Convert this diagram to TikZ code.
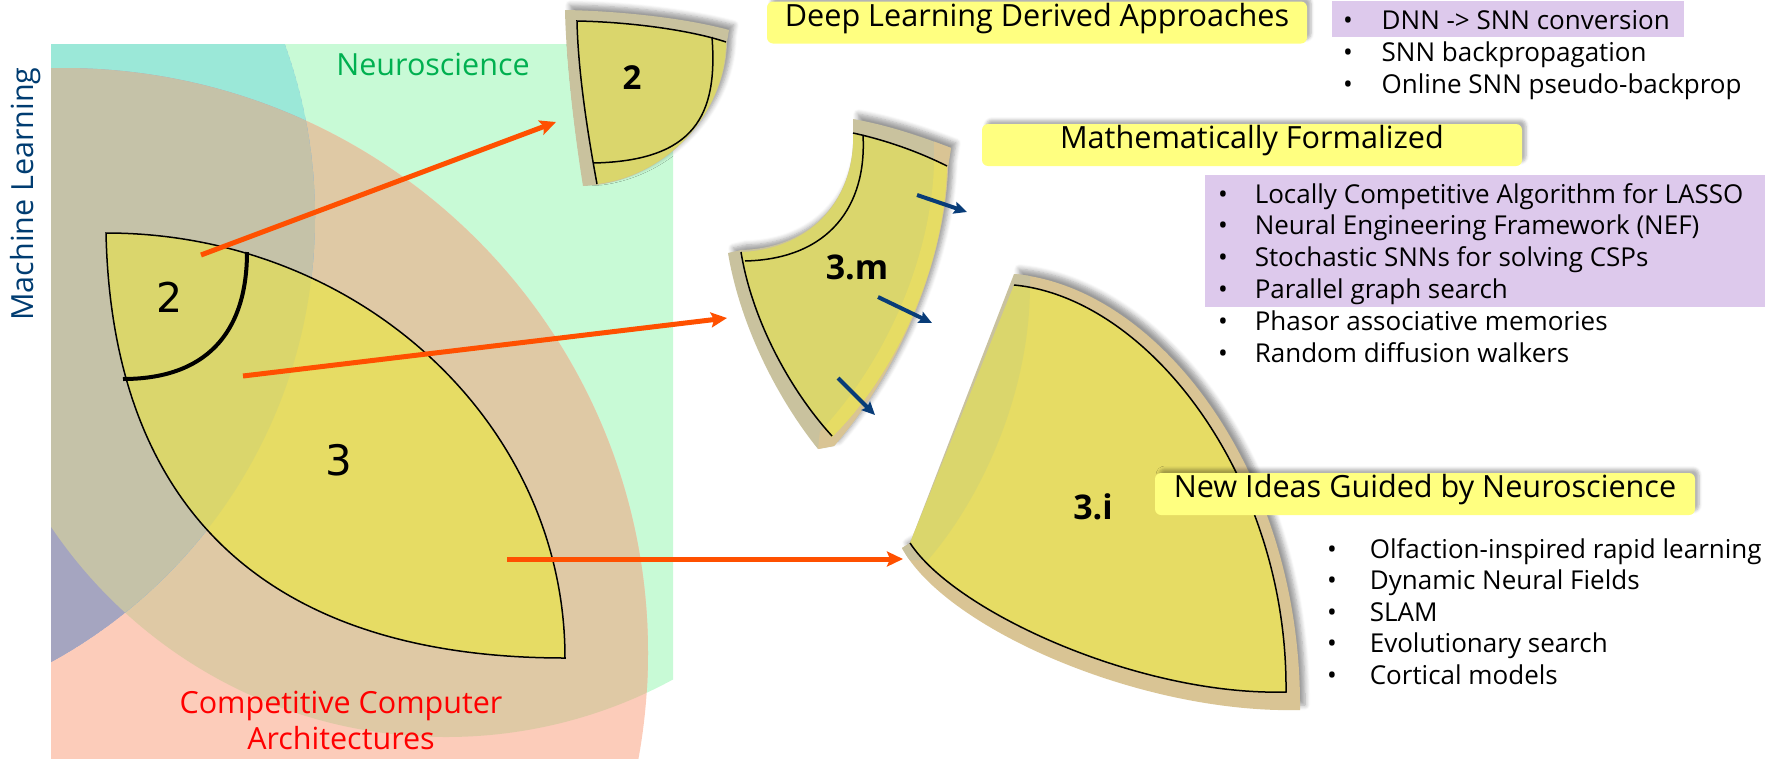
\documentclass[tikz,border=0pt]{standalone}
\usepackage{fontspec}
\setmainfont{Open Sans}
\newfontfamily\dejavu{DejaVu Sans}
\usetikzlibrary{arrows.meta,shadows.blur}

\definecolor{nsgreen}{RGB}{200,250,214}
\definecolor{ccasalmon}{RGB}{252,204,186}
\definecolor{tanmix}{RGB}{223,201,165}
\definecolor{tealmix}{RGB}{155,232,216}
\definecolor{greymix}{RGB}{197,194,168}
\definecolor{lavmix}{RGB}{165,165,192}
\definecolor{mlblue}{RGB}{150,170,210}
\definecolor{petalbright}{RGB}{230,220,100}
\definecolor{petaldark}{RGB}{218,214,108}
\definecolor{greytan}{RGB}{201,194,158}
\definecolor{lighttan}{RGB}{217,196,148}
\definecolor{boxyellow}{RGB}{255,255,128}
\definecolor{listlilac}{RGB}{221,201,236}
\definecolor{arrorange}{RGB}{255,80,0}
\definecolor{arrblue}{RGB}{8,60,120}
\definecolor{nstext}{RGB}{0,176,80}
\definecolor{mltext}{RGB}{0,60,113}

\newcommand{\petalpath}{(106,233) .. controls (359,233) and (565,423) .. (565,658) .. controls (267,658) and (112,509) .. (106,233) -- cycle}

\tikzset{
  orangearrow/.style={draw=arrorange, line width=5pt, -{Stealth[length=16pt,width=15pt,inset=3pt]}},
  bluearrow/.style={draw=arrblue, line width=4pt, -{Stealth[length=13pt,width=12pt,inset=2pt]}},
  pieceshadow/.style={blur shadow={shadow xshift=5pt, shadow yshift=5pt, shadow blur steps=6, shadow blur radius=5pt, shadow opacity=40}},
  headbox/.style={fill=boxyellow, rounded corners=6pt, minimum width=540pt, minimum height=42pt, inner sep=0pt,
    text height=0.76em, text depth=0pt, font=\fontsize{30.6}{32}\selectfont,
    blur shadow={shadow xshift=4pt, shadow yshift=4pt, shadow blur steps=5, shadow blur radius=3pt, shadow opacity=30}},
  listitem/.style={anchor=base west, inner sep=0pt, font=\fontsize{26}{31}\selectfont},
  venntext/.style={inner sep=0pt, font=\fontsize{30.5}{32}\selectfont},
}

\begin{document}
\begin{tikzpicture}[x=1pt,y=1pt,yscale=-1,xscale=1]
\useasboundingbox (0,0) rectangle (1765,758);

%Shape: Venn background
\begin{scope}
\clip (51,44) rectangle (673,758);
%Shape: Circle (Neuroscience)
\fill[nsgreen] (446,261) circle (476);
%Shape: Circle (Competitive Computer Architectures)
\fill[ccasalmon] (63,653) circle (585);
\begin{scope}
\clip (446,261) circle (476);
\fill[tanmix] (63,653) circle (585);
\end{scope}
%Shape: Circle (Machine Learning)
\begin{scope}
\clip (-192,217) circle (507);
\fill[mlblue] (-192,217) circle (507);
\fill[tealmix] (446,261) circle (476);
\fill[lavmix] (63,653) circle (585);
\clip (446,261) circle (476);
\fill[greymix] (63,653) circle (585);
\end{scope}
\end{scope}

%Shape: Petal
\fill[petalbright] \petalpath;
\begin{scope}
\clip \petalpath;
\fill[petaldark] (-192,217) circle (507);
\end{scope}
\draw[line width=1.5pt] \petalpath;
%Curve: border of region 2
\draw[line width=4pt] (247,252) .. controls (247,335) and (204,379) .. (123,379);

% Text Node
\node[font=\dejavu\fontsize{41}{41}\selectfont, inner sep=0pt] (regtwo) at (170,297) {2};
% Text Node
\node[font=\dejavu\fontsize{42}{42}\selectfont, inner sep=0pt] (regthree) at (339,460) {3};

% Text Node
\node[venntext, text=nstext] (neuro) at (433,64) {Neuroscience};
% Text Node
\node[venntext, text=mltext, rotate=90, anchor=base] (ml) at (33,194) {Machine Learning};
% Text Node
\node[venntext, text=red, anchor=base] (cca1) at (341,713) {Competitive Computer};
% Text Node
\node[venntext, text=red, anchor=base] (cca2) at (341,749) {Architectures};

%Shape: Piece 2
\fill[greytan, pieceshadow] (565,10) .. controls (620,11) and (685,18) .. (729,30) -- (727,42) .. controls (726,110) and (670,175) .. (597,185) -- (583,186) .. controls (574,130) and (566,60) .. (565,10) -- cycle;
\fill[petaldark] (577,21) .. controls (630,22) and (690,30) .. (726,42) .. controls (726,110) and (670,175) .. (597,184) .. controls (587,130) and (578,70) .. (577,21) -- cycle;
\draw[line width=1.5pt] (726,42) .. controls (690,30) and (630,22) .. (577,21) .. controls (578,70) and (587,130) .. (597,184);
\draw[line width=1.5pt] (712,37) .. controls (718,115) and (695,161) .. (593,163);
% Text Node
\node[font=\bfseries\fontsize{33}{33}\selectfont, inner sep=0pt] (piecetwo) at (632,78) {2};

%Shape: Piece 3.m
\fill[greytan, pieceshadow] (853,119) .. controls (887,125) and (920,136) .. (951,148) -- (948,167) .. controls (945,260) and (900,370) .. (834,446) -- (818,449) .. controls (777,398) and (740,325) .. (728,253) -- (741,250) .. controls (815,248) and (856,195) .. (853,131) -- cycle;
\begin{scope}
\clip (934,100) -- (934,165) .. controls (931,255) and (888,362) .. (815,437) -- (815,480) -- (1000,480) -- (1000,100) -- cycle;
\fill[lighttan] (853,119) .. controls (887,125) and (920,136) .. (951,148) -- (948,167) .. controls (945,260) and (900,370) .. (834,446) -- (818,449) -- cycle;
\end{scope}
\fill[petaldark] (853,133) .. controls (885,140) and (917,151) .. (947,166) .. controls (945,260) and (900,370) .. (832,437) .. controls (790,390) and (752,320) .. (741,252) .. controls (815,249) and (856,195) .. (853,133) -- cycle;
\begin{scope}
\clip (853,133) .. controls (885,140) and (917,151) .. (947,166) .. controls (945,260) and (900,370) .. (832,437) .. controls (790,390) and (752,320) .. (741,252) .. controls (815,249) and (856,195) .. (853,133) -- cycle;
\fill[petalbright] (934,100) -- (934,165) .. controls (931,255) and (888,362) .. (815,437) -- (815,480) -- (1000,480) -- (1000,100) -- cycle;
\end{scope}
\draw[line width=1.5pt] (853,133) .. controls (885,140) and (917,151) .. (947,166);
\draw[line width=1.5pt] (741,252) .. controls (752,320) and (790,390) .. (832,436);
\draw[line width=1.5pt] (863,135) .. controls (867,205) and (830,259) .. (745,261);
% Text Node
\node[font=\bfseries\fontsize{34}{34}\selectfont, inner sep=0pt] (piecethreem) at (857,267) {3.m};

%Shape: Piece 3.i
\fill[lighttan, pieceshadow] (1014,274) .. controls (1160,287) and (1302,475) .. (1300,710) .. controls (1140,714) and (945,628) .. (902,548) -- (910,543) .. controls (965,490) and (1014,390) .. (1014,285) -- cycle;
\begin{scope}
\clip (880,250) -- (1030,250) -- (1030,285) .. controls (1030,395) and (980,500) .. (928,560) -- (880,560) -- cycle;
\fill[greytan] (1014,274) .. controls (1160,287) and (1302,475) .. (1300,710) .. controls (1140,714) and (945,628) .. (902,548) -- (910,543) -- cycle;
\end{scope}
\fill[petalbright] (1014,285) .. controls (1150,298) and (1288,480) .. (1286,692) .. controls (1140,696) and (955,612) .. (910,543) .. controls (965,490) and (1014,390) .. (1014,285) -- cycle;
\begin{scope}
\clip (880,250) -- (1030,250) -- (1030,285) .. controls (1030,395) and (980,500) .. (928,560) -- (880,560) -- cycle;
\fill[petaldark] (1014,285) .. controls (1150,298) and (1288,480) .. (1286,692) .. controls (1140,696) and (955,612) .. (910,543) -- cycle;
\end{scope}
\draw[line width=1.5pt] (1014,285) .. controls (1150,298) and (1288,480) .. (1286,692) .. controls (1140,696) and (955,612) .. (910,543);
% Text Node
\node[font=\bfseries\fontsize{34}{34}\selectfont, inner sep=0pt] (piecethreei) at (1093,507) {3.i};

%Straight Lines: orange arrows
\coordinate (src2) at (201,255);
\coordinate (dst2) at (556,122);
\coordinate (src3m) at (243,376);
\coordinate (dst3m) at (727,318);
\coordinate (src3i) at (507,559);
\coordinate (dst3i) at (903,559);
\draw[orangearrow] (src2) -- (dst2);
\draw[orangearrow] (src3m) -- (dst3m);
\draw[orangearrow] (src3i) -- (dst3i);

%Straight Lines: blue arrows
\coordinate (ba1) at (917,195);
\coordinate (bb1) at (967,212);
\coordinate (ba2) at (878,297);
\coordinate (bb2) at (932,323);
\coordinate (ba3) at (838,378);
\coordinate (bb3) at (875,415);
\draw[bluearrow] (ba1) -- (bb1);
\draw[bluearrow] (ba2) -- (bb2);
\draw[bluearrow] (ba3) -- (bb3);

% Text Node: headings
\node[headbox] (deep) at (1037,22.5) {Deep Learning Derived Approaches};
\node[headbox] (math) at (1252,145) {Mathematically Formalized};
\node[headbox] (newideas) at (1425,494) {New Ideas Guided by Neuroscience};

%Shape: highlights
\fill[listlilac] (1332,1) rectangle (1684,37);
\fill[listlilac] (1205,175) rectangle (1765,307);

% Text Node: lists
\foreach \txt [count=\i] in {DNN -> SNN conversion, SNN backpropagation, Online SNN pseudo-backprop}
  \node[listitem] (dl\i) at (1343,29+32*\i-32) {\makebox[38.5pt][l]{\textbullet}\txt};
\foreach \txt [count=\i] in {Locally Competitive Algorithm for LASSO, Neural Engineering Framework (NEF), Stochastic SNNs for solving CSPs, Parallel graph search, Phasor associative memories, Random diffusion walkers}
  \node[listitem] (mf\i) at (1218,203+31.8*\i-31.8) {\makebox[36.6pt][l]{\textbullet}\txt};
\foreach \txt [count=\i] in {Olfaction-inspired rapid learning, Dynamic Neural Fields, SLAM, Evolutionary search, Cortical models}
  \node[listitem] (ni\i) at (1327,558+31.5*\i-31.5) {\makebox[42.6pt][l]{\textbullet}\txt};

\end{tikzpicture}
\end{document}
